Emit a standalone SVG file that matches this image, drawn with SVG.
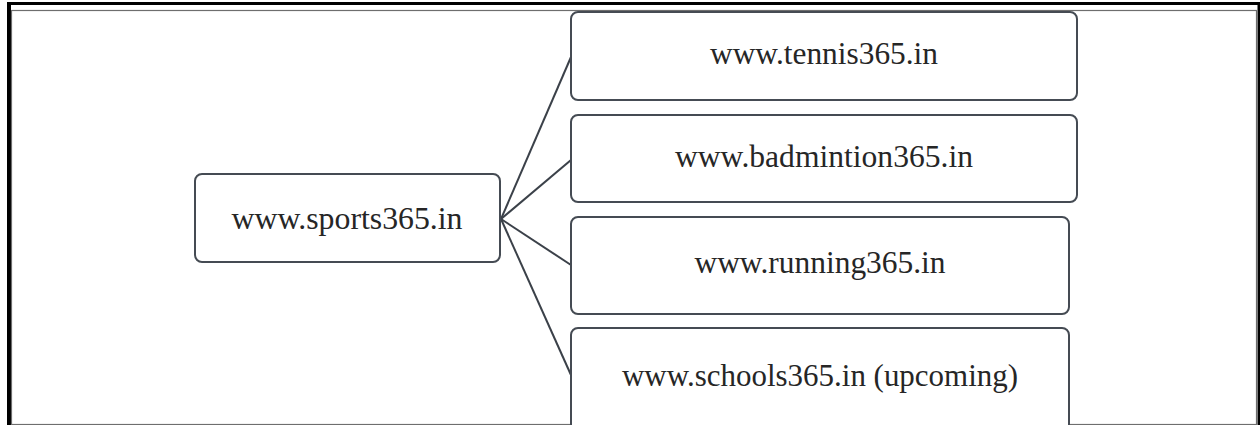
<svg xmlns="http://www.w3.org/2000/svg" width="1260" height="425" viewBox="0 0 1260 425">
  <style>
    .box { fill: #ffffff; stroke: #454b53; stroke-width: 2; }
    .label { font-family: "Liberation Serif", "Times New Roman", serif; font-size: 31px; fill: #262626; text-anchor: middle; }
    .link { stroke: #3b4149; stroke-width: 2; fill: none; }
  </style>

  <rect x="0" y="0" width="1260" height="425" fill="#ffffff"/>

  <!-- page frame: heavy outer rule with a thin inner rule -->
  <g id="frame">
    <line x1="7" y1="3.5" x2="1260" y2="3.5" stroke="#000" stroke-width="3"/>
    <line x1="9" y1="2" x2="9" y2="425" stroke="#000" stroke-width="4"/>
    <line x1="1259" y1="2" x2="1259" y2="425" stroke="#000" stroke-width="3"/>
    <rect x="11.5" y="10.5" width="1245" height="414" fill="none" stroke="#6e6e6e" stroke-width="1.2"/>
  </g>

  <!-- connectors from the root site to each child site -->
  <g id="connectors">
    <line class="link" x1="501" y1="219" x2="571" y2="57"/>
    <line class="link" x1="501" y1="219" x2="571" y2="160"/>
    <line class="link" x1="501" y1="219" x2="571" y2="265"/>
    <line class="link" x1="501" y1="219" x2="571" y2="375"/>
  </g>

  <g id="node-sports">
    <rect class="box" x="195" y="174" width="305" height="88" rx="7"/>
    <text class="label" x="347" y="229" textLength="231" lengthAdjust="spacingAndGlyphs">www.sports365.in</text>
  </g>

  <g id="node-tennis">
    <rect class="box" x="571" y="12" width="506" height="88" rx="7"/>
    <text class="label" x="824" y="64" textLength="228" lengthAdjust="spacingAndGlyphs">www.tennis365.in</text>
  </g>

  <g id="node-badmintion">
    <rect class="box" x="571" y="115" width="506" height="87" rx="7"/>
    <text class="label" x="824" y="167" textLength="298" lengthAdjust="spacingAndGlyphs">www.badmintion365.in</text>
  </g>

  <g id="node-running">
    <rect class="box" x="571" y="217" width="498" height="97" rx="7"/>
    <text class="label" x="820" y="273" textLength="251" lengthAdjust="spacingAndGlyphs">www.running365.in</text>
  </g>

  <g id="node-schools">
    <rect class="box" x="571" y="328" width="498" height="104" rx="7"/>
    <text class="label" x="820" y="386" textLength="396" lengthAdjust="spacingAndGlyphs">www.schools365.in (upcoming)</text>
  </g>
</svg>
